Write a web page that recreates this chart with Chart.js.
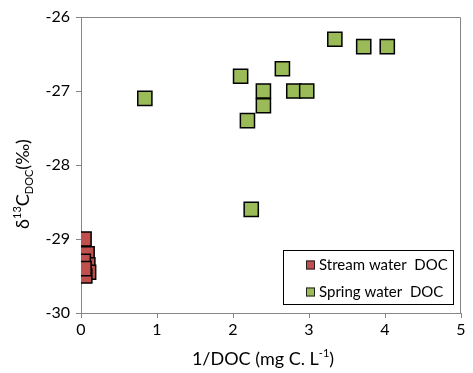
<!DOCTYPE html>
<html>
<head>
<meta charset="utf-8">
<script src="https://cdn.jsdelivr.net/npm/chart.js@4"></script>
<style>
  html, body { margin: 0; padding: 0; background: #fff; }
  #wrap { width: 473px; height: 373px; }
</style>
</head>
<body>
<div id="wrap"><canvas id="c" width="473" height="373"></canvas></div>
<script>
// values
const streamX = [0.04, 0.08, 0.09, 0.10, 0.05, 0.03, 0.04];
const streamY = [-29.0, -29.2, -29.35, -29.45, -29.5, -29.3, -29.4];

const springX = [0.84, 2.10, 2.40, 2.40, 2.19, 2.24, 2.65, 2.80, 2.97, 3.34, 3.72, 4.03];
const springY = [-27.1, -26.8, -27.0, -27.2, -27.4, -28.6, -26.7, -27.0, -27.0, -26.3, -26.4, -26.4];

const xTicks = [0, 1, 2, 3, 4, 5];
const yTicks = [-30, -29, -28, -27, -26];

const seriesNames = ['Stream water  DOC', 'Spring water  DOC'];
const seriesFill = ['#C0504D', '#9BBB59'];

const FONT = 'Lato, "Open Sans", sans-serif';
const AXIS = '#868686';

function toPoints(xs, ys) {
    return xs.map((x, i) => ({ x: x, y: ys[i] }));
}

// box around the plot, axis titles and the in-plot legend
const decorations = {
    id: 'decorations',
    afterDraw(chart) {
        const ctx = chart.ctx;
        const a = chart.chartArea;
        ctx.save();

        // top and right frame
        ctx.strokeStyle = AXIS;
        ctx.lineWidth = 1;
        ctx.beginPath();
        ctx.moveTo(a.left, a.top + 0.5);
        ctx.lineTo(a.right - 0.5, a.top + 0.5);
        ctx.lineTo(a.right - 0.5, a.bottom);
        ctx.stroke();

        ctx.fillStyle = '#000';

        // x title with superscript
        const xt1 = '1/DOC (mg C. L';
        const xt2 = '-1';
        const xt3 = ')';
        ctx.font = '18px ' + FONT;
        const w1 = ctx.measureText(xt1).width;
        const w3 = ctx.measureText(xt3).width;
        ctx.font = '11px ' + FONT;
        const w2 = ctx.measureText(xt2).width;
        let x0 = 263 - (w1 + w2 + w3) / 2;
        const yBase = 365;
        ctx.textBaseline = 'alphabetic';
        ctx.textAlign = 'left';
        ctx.font = '18px ' + FONT;
        ctx.fillText(xt1, x0, yBase);
        ctx.font = '11px ' + FONT;
        ctx.fillText(xt2, x0 + w1, yBase - 8);
        ctx.font = '18px ' + FONT;
        ctx.fillText(xt3, x0 + w1 + w2, yBase);

        // y title: δ13C DOC (‰), rotated
        const parts = [
            { t: 'δ', size: 18, dy: 0 },
            { t: '13', size: 11, dy: -8 },
            { t: 'C', size: 18, dy: 0 },
            { t: 'DOC', size: 11, dy: 4 },
            { t: '(‰)', size: 18, dy: 0 }
        ];
        let total = 0;
        parts.forEach(p => {
            ctx.font = p.size + 'px ' + FONT;
            p.w = ctx.measureText(p.t).width;
            total += p.w;
        });
        ctx.translate(29, 184);
        ctx.rotate(-Math.PI / 2);
        let px = -total / 2;
        parts.forEach(p => {
            ctx.font = p.size + 'px ' + FONT;
            ctx.fillText(p.t, px, p.dy);
            px += p.w;
        });
        ctx.restore();

        // legend
        ctx.save();
        const lx = 283, ly = 250, lw = 170, lh = 54;
        ctx.fillStyle = '#fff';
        ctx.fillRect(lx, ly, lw, lh);
        ctx.strokeStyle = '#000';
        ctx.lineWidth = 1;
        ctx.strokeRect(lx + 0.5, ly + 0.5, lw, lh);
        ctx.font = '15px ' + FONT;
        ctx.textBaseline = 'middle';
        ctx.textAlign = 'left';
        seriesNames.forEach((name, i) => {
            const cy = ly + 15 + i * 27;
            ctx.fillStyle = seriesFill[i];
            ctx.fillRect(306, cy - 4.5, 9, 9);
            ctx.strokeStyle = '#222';
            ctx.strokeRect(306.5, cy - 4, 8, 8);
            ctx.fillStyle = '#000';
            ctx.fillText(name, 319, cy);
        });
        ctx.restore();
    }
};

new Chart(document.getElementById('c'), {
    type: 'scatter',
    data: {
        datasets: [
            {
                label: seriesNames[0],
                data: toPoints(streamX, streamY),
                pointStyle: 'rect',
                pointRadius: 10,
                pointHoverRadius: 10,
                backgroundColor: seriesFill[0],
                borderColor: '#000',
                borderWidth: 1.5
            },
            {
                label: seriesNames[1],
                data: toPoints(springX, springY),
                pointStyle: 'rect',
                pointRadius: 10,
                pointHoverRadius: 10,
                backgroundColor: seriesFill[1],
                borderColor: '#000',
                borderWidth: 1.5
            }
        ]
    },
    options: {
        responsive: false,
        animation: false,
        layout: { padding: { left: 0, top: 17, right: 12, bottom: 0 } },
        plugins: {
            legend: { display: false },
            tooltip: { enabled: false }
        },
        scales: {
            x: {
                type: 'linear',
                min: 0, max: 5,
                afterBuildTicks: s => { s.ticks = xTicks.map(v => ({ value: v })); },
                afterFit: s => { s.height = 60; },
                grid: { drawOnChartArea: false, drawTicks: true, tickLength: 5, color: AXIS },
                border: { color: AXIS, width: 1 },
                ticks: { color: '#000', font: { family: FONT, size: 16 }, padding: 2 }
            },
            y: {
                type: 'linear',
                min: -30, max: -26,
                afterBuildTicks: s => { s.ticks = yTicks.map(v => ({ value: v })); },
                afterFit: s => { s.width = 81; },
                grid: { drawOnChartArea: false, drawTicks: true, tickLength: 5, color: AXIS },
                border: { color: AXIS, width: 1 },
                ticks: { color: '#000', font: { family: FONT, size: 16 }, padding: 6 }
            }
        }
    },
    plugins: [decorations]
});
</script>
</body>
</html>
